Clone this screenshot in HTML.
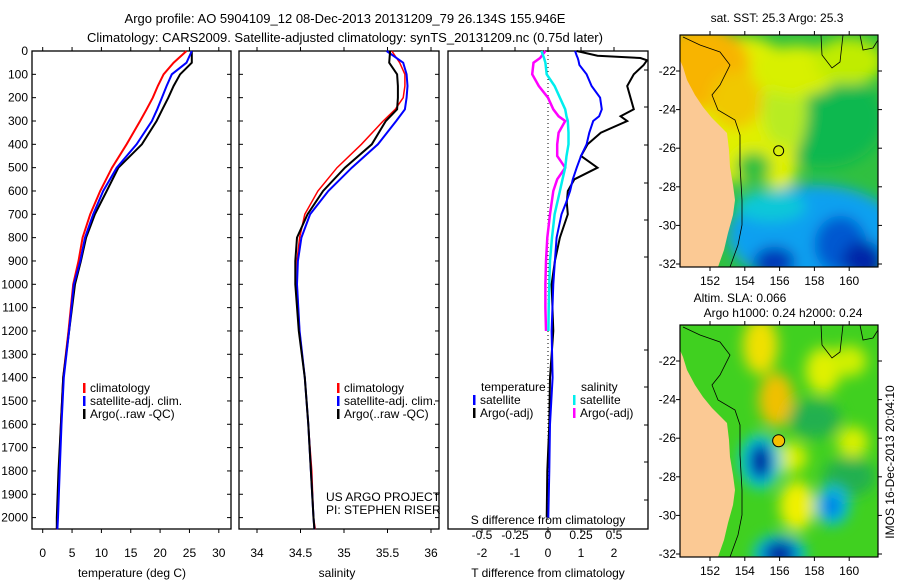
<!DOCTYPE html>
<html><head><meta charset="utf-8"><style>
body{margin:0;background:#fff;}
svg{display:block;font-family:"Liberation Sans",sans-serif;}
</style></head><body>
<svg id="fig" width="900" height="580" viewBox="0 0 900 580">
<defs>
<filter id="blr" x="-50%" y="-50%" width="200%" height="200%"><feGaussianBlur stdDeviation="7"/></filter>
<clipPath id="c1"><rect x="680" y="35" width="198" height="232"/></clipPath>
<clipPath id="c2"><rect x="680" y="325" width="198" height="232"/></clipPath>
</defs>
<text x="345" y="23" font-size="13" text-anchor="middle">Argo profile: AO 5904109_12 08-Dec-2013 20131209_79 26.134S 155.946E</text>
<text x="345" y="42" font-size="13" text-anchor="middle">Climatology: CARS2009. Satellite-adjusted climatology: synTS_20131209.nc (0.75d later)</text>
<g id="g1"></g>
<g id="g2"></g>
<g id="g3"></g>
<g id="m1"></g>
<g id="m2"></g>
<text transform="translate(894,462) rotate(-90)" font-size="12" text-anchor="middle">IMOS 16-Dec-2013 20:04:10</text>
</svg>
<script>
// ---- data ----
const depths=[0,50,100,150,200,250,300,400,500,600,700,800,900,1000,1200,1400,1600,1800,2000,2050];
const tempClim=[24.5,22.3,20.6,19.6,18.75,17.7,16.6,14.3,11.8,9.8,8.1,6.8,6.1,5.2,4.4,3.5,3.1,2.8,2.5,2.4];
const tempSat=[25.4,24.5,22.0,21.1,20.3,19.5,18.6,16.0,12.6,10.3,8.6,7.2,6.4,5.3,4.5,3.6,3.2,2.9,2.6,2.5];
const tempArgo=[25.4,25.4,23.4,22.3,21.4,20.4,19.4,16.9,12.9,10.9,8.9,7.4,6.5,5.5,4.5,3.5,3.1,2.7,2.4,2.4];
const salClim=[35.55,35.64,35.70,35.70,35.68,35.59,35.45,35.20,34.92,34.70,34.55,34.49,34.46,34.46,34.49,34.55,34.59,34.63,34.65,34.67];
const salSat=[35.49,35.68,35.72,35.73,35.72,35.70,35.60,35.39,35.09,34.82,34.61,34.51,34.47,34.46,34.49,34.55,34.59,34.62,34.65,34.66];
const salArgo=[35.53,35.52,35.61,35.62,35.62,35.61,35.48,35.32,35.01,34.76,34.58,34.46,34.44,34.44,34.48,34.55,34.59,34.62,34.65,34.66];
const dDepths=[0,20,30,40,60,100,150,200,250,280,300,350,400,450,500,550,600,650,700,800,900,1000,1200,1400,1600,1800,2000];
const dTsat=[0.82,0.87,0.9,0.92,0.95,1.17,1.32,1.58,1.63,1.55,1.37,1.25,1.17,1.0,0.87,0.75,0.67,0.55,0.41,0.26,0.21,0.16,0.11,0.14,0.06,0.04,0.01];
const dTargo=[0.87,1.5,2.8,3.0,2.9,2.6,2.4,2.5,2.6,2.2,2.4,1.6,1.2,1.0,1.5,0.8,0.6,0.57,0.6,0.36,0.21,0.11,0.16,0.06,0.04,-0.02,-0.04];
const sDepths=[0,30,50,100,150,200,250,280,300,350,400,450,500,550,600,700,800,900,1000,1100,1200];
const dSsat=[-0.05,-0.03,-0.02,-0.01,0.05,0.09,0.13,0.14,0.15,0.155,0.155,0.14,0.13,0.11,0.09,0.05,0.03,0.015,0.01,0.005,0.003];
const dSargo=[-0.02,-0.06,-0.11,-0.12,-0.07,0.0,0.04,0.08,0.13,0.08,0.07,0.07,0.13,0.07,0.04,0.015,-0.005,-0.015,-0.02,-0.02,-0.015];
const depthTicks=[0,100,200,300,400,500,600,700,800,900,1000,1100,1200,1300,1400,1500,1600,1700,1800,1900,2000];
const tempTicks=[0,5,10,15,20,25,30];
const salTicks=[34,34.5,35,35.5,36];
const tdTicks=[-2,-1,0,1,2];
const sdTicks=[-0.5,-0.25,0,0.25,0.5];
const lonTicks=[152,154,156,158,160];
const latTicks=[-22,-24,-26,-28,-30,-32];

const NS="http://www.w3.org/2000/svg";
function mk(tag,attrs,parent,txt){const e=document.createElementNS(NS,tag);for(const k in attrs)e.setAttribute(k,attrs[k]);if(txt!==undefined)e.textContent=txt;parent.appendChild(e);return e;}
const TOP=51,BOT=529;
const yD=d=>TOP+d*0.2333;
const xT=t=>42.7+t*5.87;
const xS=s=>257+(s-34)*87;
const xTd=t=>548+t*33;
const xSd=s=>548+s*132;

function frame(g,x0,x1,name){
  const r=mk('rect',{x:x0,y:TOP,width:x1-x0,height:BOT-TOP,fill:'none',stroke:'#000','stroke-width':1.3},g);
  
  
}
function line(g,xs,ds,fx,color,w,name){
  const pts=xs.map((v,i)=>fx(v).toFixed(1)+','+yD(ds[i]).toFixed(1)).join(' ');
  const p=mk('polyline',{points:pts,fill:'none',stroke:color,'stroke-width':w,'stroke-linejoin':'miter'},g);
  
  
}
function xticks(g,ticks,fx,y,name,fmt){
  ticks.forEach(t=>{
    const x=fx(t);
    mk('line',{x1:x,y1:BOT,x2:x,y2:BOT+4,stroke:'#000'},g);
    mk('line',{x1:x,y1:TOP,x2:x,y2:TOP-4,stroke:'#000'},g);
    const tx=mk('text',{x:x,y:y,'font-size':12,'text-anchor':'middle'},g,fmt?fmt(t):String(t));
    
    
  });
}
function legend(g,x,y,items){
  items.forEach((it,i)=>{
    mk('rect',{x:x,y:y+i*13-9,width:2.5,height:10,fill:it[1]},g);
    const t=mk('text',{x:x+7,y:y+i*13,'font-size':12},g,it[0]);
    
    
  });
}
// panel 1
const g1=document.getElementById('g1');
frame(g1,32,231,'temperature-axes');
depthTicks.forEach(d=>{const y=yD(d);mk('line',{x1:32,y1:y,x2:36,y2:y,stroke:'#000'},g1);mk('line',{x1:231,y1:y,x2:227,y2:y,stroke:'#000'},g1);
  const t=mk('text',{x:28,y:y+4,'font-size':12,'text-anchor':'end'},g1,String(d));
  
  });
xticks(g1,tempTicks,xT,557,'temperature-tick-label');
mk('text',{x:132,y:577,'font-size':12,'text-anchor':'middle'},g1,'temperature (deg C)');
line(g1,tempClim,depths,xT,'#f00',2,'temp-climatology-line');
line(g1,tempArgo,depths,xT,'#000',2,'temp-argo-line');
line(g1,tempSat,depths,xT,'#00f',2,'temp-satellite-line');
legend(g1,83,392,[['climatology','#f00'],['satellite-adj. clim.','#00f'],['Argo(..raw -QC)','#000']]);
// panel 2
const g2=document.getElementById('g2');
frame(g2,239,439,'salinity-axes');
depthTicks.forEach(d=>{const y=yD(d);mk('line',{x1:239,y1:y,x2:243,y2:y,stroke:'#000'},g2);mk('line',{x1:439,y1:y,x2:435,y2:y,stroke:'#000'},g2);});
xticks(g2,salTicks,xS,557,'salinity-tick-label');
mk('text',{x:337,y:577,'font-size':12,'text-anchor':'middle'},g2,'salinity');
line(g2,salClim,depths,xS,'#f00',1.5,'sal-climatology-line');
line(g2,salSat,depths,xS,'#00f',2,'sal-satellite-line');
line(g2,salArgo,depths,xS,'#000',2,'sal-argo-line');
legend(g2,337,392,[['climatology','#f00'],['satellite-adj. clim.','#00f'],['Argo(..raw -QC)','#000']]);
mk('text',{x:326,y:501,'font-size':12},g2,'US ARGO PROJECT');
mk('text',{x:326,y:514,'font-size':12},g2,'PI: STEPHEN RISER');
// panel 3
const g3=document.getElementById('g3');
frame(g3,448,648,'difference-axes');
[70,107,145,183,220,257,350,387,425,462,500].forEach(y=>mk('line',{x1:648,y1:y,x2:644,y2:y,stroke:'#000'},g3));
mk('line',{x1:548,y1:TOP,x2:548,y2:BOT,stroke:'#000','stroke-dasharray':'1,3'},g3);
xticks(g3,tdTicks,xTd,557,'t-diff-tick-label');
sdTicks.forEach(s=>{const t=mk('text',{x:xSd(s),y:539,'font-size':12,'text-anchor':'middle'},g3,String(s));
  
  });
mk('text',{x:548,y:524,'font-size':12,'text-anchor':'middle'},g3,'S difference from climatology');
mk('text',{x:548,y:577,'font-size':12,'text-anchor':'middle'},g3,'T difference from climatology');
line(g3,dTargo,dDepths,xTd,'#000',2,'tdiff-argo-line');
line(g3,dTsat,dDepths,xTd,'#00f',2,'tdiff-satellite-line');
line(g3,dSargo,sDepths,xSd,'#f0f',2.5,'sdiff-argo-line');
line(g3,dSsat,sDepths,xSd,'#0ee',2.5,'sdiff-satellite-line');
mk('text',{x:481,y:391,'font-size':12},g3,'temperature');
mk('text',{x:581,y:391,'font-size':12},g3,'salinity');
legend(g3,473,404,[['satellite','#00f'],['Argo(-adj)','#000']]);
legend(g3,573,404,[['satellite','#0ee'],['Argo(-adj)','#f0f']]);
// maps
const lonX=l=>710+(l-152)*17.4;
function map(id,oy,clip,base,blobs){
  const g=document.getElementById(id);
  const latY=la=>71+oy+(-22-la)*19.3;
  const inner=mk('g',{'clip-path':'url(#'+clip+')'},g);
  mk('rect',{x:680,y:35+oy,width:198,height:232,fill:base},inner);
  const bg=mk('g',{filter:'url(#blr)'},inner);
  blobs.forEach(b=>{mk('ellipse',{cx:lonX(b[0]),cy:latY(b[1]),rx:b[2]*17.4,ry:b[3]*19.3,fill:b[4]},bg);});
  const coast=[[680,60],[683,67],[687,80],[695,95],[703,107],[712,118],[722,128],[727,133],[729,150],[730,167],[733,185],[735,200],[733,215],[728,233],[724,250],[718,267],[680,267]];
  mk('polygon',{points:coast.map(p=>p[0]+','+(p[1]+oy)).join(' '),fill:'#fbc994'},inner);
  const iso=[[683,37],[700,45],[720,52],[730,65],[720,85],[712,95],[718,110],[735,120],[740,135],[740,165],[742,200],[742,225],[738,245],[730,267]];
  mk('polyline',{points:iso.map(p=>p[0]+','+(p[1]+oy)).join(' '),fill:'none',stroke:'#000','stroke-width':0.8},inner);
  mk('polyline',{points:[[821,35],[822,55],[832,68],[840,62],[843,35]].map(p=>p[0]+','+(p[1]+oy)).join(' '),fill:'none',stroke:'#000','stroke-width':0.8},inner);
  mk('polyline',{points:[[860,35],[863,50],[873,48],[878,40]].map(p=>p[0]+','+(p[1]+oy)).join(' '),fill:'none',stroke:'#000','stroke-width':0.8},inner);
  mk('rect',{x:680,y:35+oy,width:198,height:232,fill:'none',stroke:'#000','stroke-width':1.2},g);
  lonTicks.forEach(l=>{const x=lonX(l);mk('line',{x1:x,y1:267+oy,x2:x,y2:271+oy,stroke:'#000'},g);mk('line',{x1:x,y1:35+oy,x2:x,y2:31+oy,stroke:'#000'},g);
    const t=mk('text',{x:x,y:285+oy,'font-size':12,'text-anchor':'middle'},g,String(l));
    
    });
  latTicks.forEach(la=>{const y=latY(la);mk('line',{x1:680,y1:y,x2:676,y2:y,stroke:'#000'},g);mk('line',{x1:878,y1:y,x2:882,y2:y,stroke:'#000'},g);
    const t=mk('text',{x:676,y:y+4,'font-size':12,'text-anchor':'end'},g,String(la));
    
    });
  return {g,latY};
}
const m1=map('m1',0,'c1','#30c040',[
 [158.5,-24.5,3.5,2.5,'#10b850'],[153.8,-24,3.8,3.8,'#e0f000'],[151.5,-21.8,2.8,2.2,'#f8b400'],[153.5,-23.5,1.5,1.5,'#f0c800'],
 [156.3,-24,1.3,2,'#b8ec20'],[156,-27,1,1.2,'#e0f000'],[154.5,-27,1,0.8,'#30c040'],[157,-22,2.5,1.3,'#d8f000'],
 [158,-30.5,5,2.6,'#10a0f0'],[155.5,-29,2,0.8,'#10c8d8'],[159.5,-31,1.5,1.5,'#0058d0'],[160.8,-31.8,1.2,1,'#0028a8'],[155.7,-31.9,1.2,0.8,'#0038b8'],[160,-21.5,2,1.2,'#c0ec00']
]);
mk('circle',{cx:lonX(155.946),cy:m1.latY(-26.134),r:5,fill:'none',stroke:'#000'},m1.g);
mk('text',{x:777,y:22,'font-size':12,'text-anchor':'middle'},m1.g,'sat. SST: 25.3 Argo: 25.3');
const m2=map('m2',290,'c2','#40d020',[
 [154.9,-21.2,1,1.5,'#f0e000'],[155.8,-24,1,1.4,'#f0c000'],[158.5,-22.5,1,1.2,'#e0f000'],[160.2,-26.2,0.9,0.8,'#d8f000'],
 [157,-29.5,1,1.3,'#f0f000'],[156.6,-27,1,0.8,'#d8f000'],[160,-22,1,0.8,'#d0f000'],[158,-25,1.5,1,'#20b050'],[160,-28,1.5,1,'#20b050'],
 [154.9,-27.2,1.2,1.4,'#10d0f0'],[154.9,-27.2,0.7,1,'#0020a0'],[159,-29.5,1,1,'#10c0f0'],[159,-29.5,0.5,0.6,'#0070e0'],
 [156,-32,1.5,1,'#10c0f0'],[156,-32,1,0.7,'#0020a0']
]);
mk('circle',{cx:lonX(155.946),cy:m2.latY(-26.134),r:6,fill:'#f5c000',stroke:'#000'},m2.g);
mk('text',{x:740,y:302,'font-size':12,'text-anchor':'middle'},m2.g,'Altim. SLA: 0.066');
mk('text',{x:783,y:317,'font-size':12,'text-anchor':'middle'},m2.g,'Argo h1000: 0.24 h2000: 0.24');
</script>
</body></html>
